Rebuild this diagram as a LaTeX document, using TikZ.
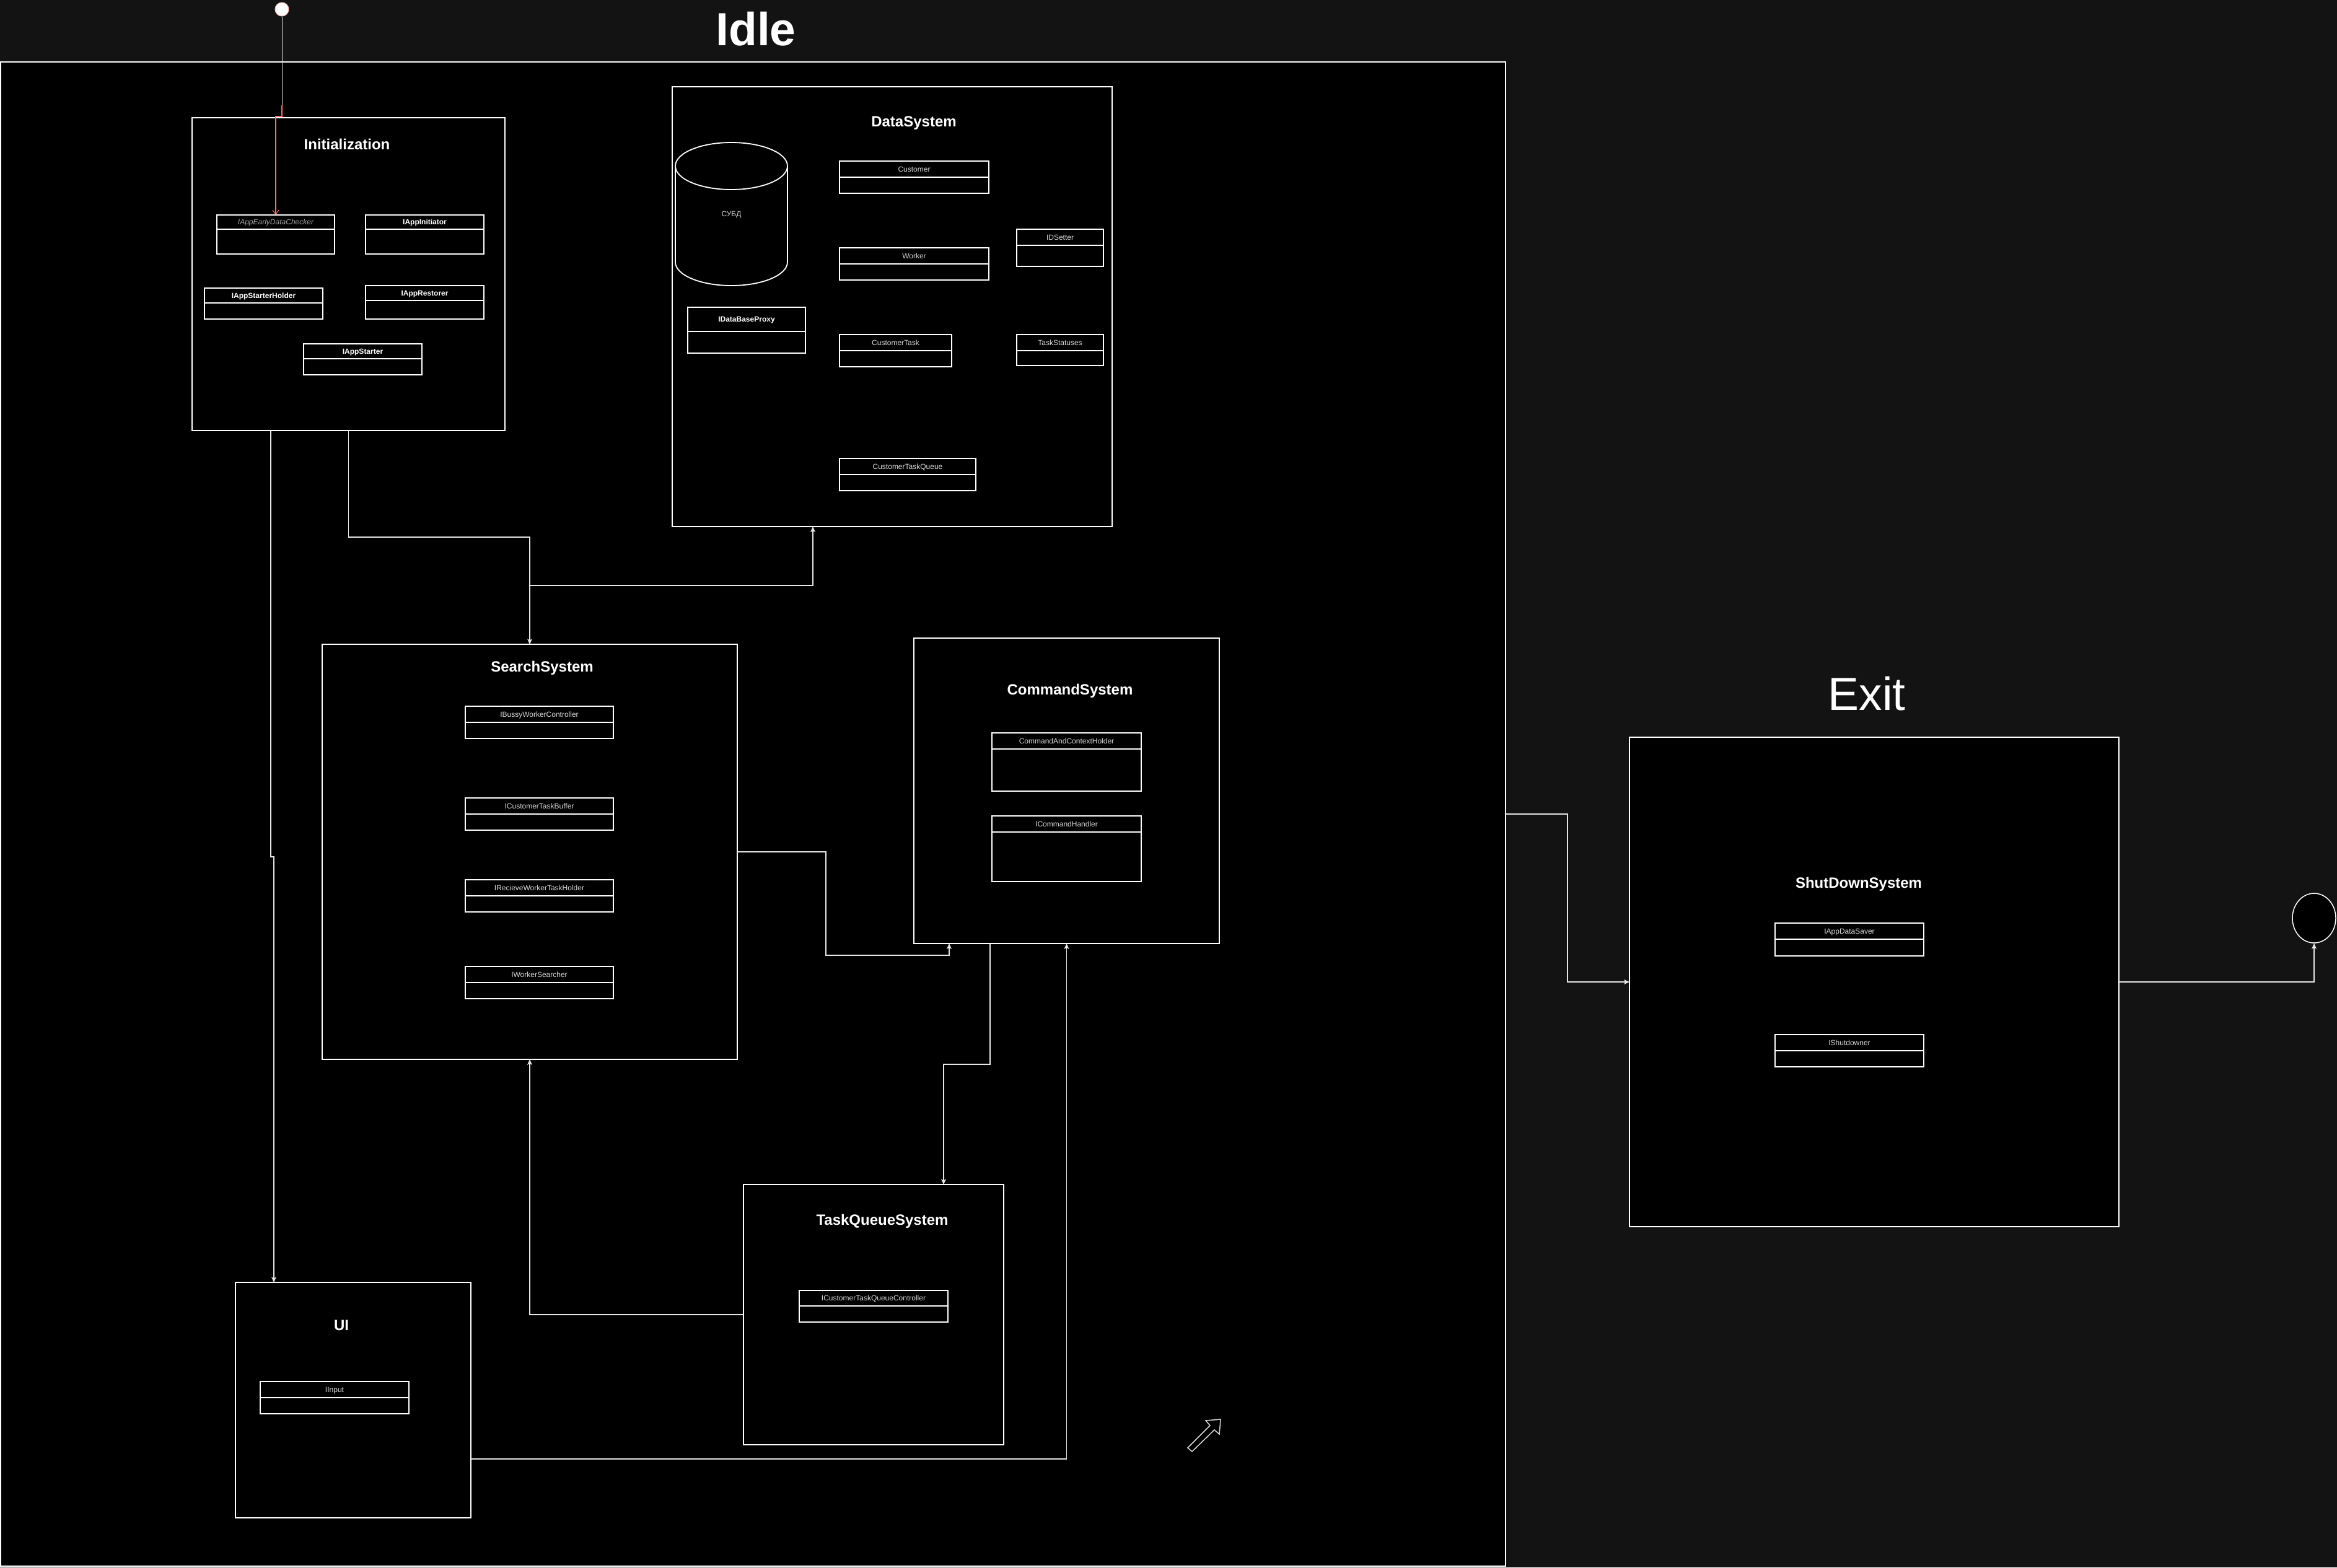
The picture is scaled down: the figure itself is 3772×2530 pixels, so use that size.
\documentclass[tikz,border=0pt]{standalone}
\usepackage{fontspec}
\setmainfont{Liberation Sans}
\usetikzlibrary{arrows.meta,calc,shapes.geometric}
\definecolor{bg}{HTML}{131313}
\definecolor{lbl}{HTML}{D9D9D9}
\definecolor{lblgray}{HTML}{A6A6A6}
\definecolor{redline}{HTML}{FF6B6B}
\definecolor{connc}{HTML}{E6E6E6}
\tikzset{
 sysbox/.style={rectangle, draw=white, line width=1.5pt, fill=black, inner sep=0pt, outer sep=0pt, anchor=north west},
 clsbox/.style={rectangle, draw=white, line width=1.4pt, inner sep=0pt, outer sep=0pt, anchor=north west},
 clstext/.style={text=lbl, font=\fontsize{12}{14}\selectfont, inner sep=0pt, anchor=base},
 clsbold/.style={clstext, text=white, font=\bfseries\fontsize{12}{14}\selectfont},
 clsital/.style={clstext, text=lblgray, font=\itshape\fontsize{12}{14}\selectfont},
 systitle/.style={text=white, font=\bfseries\fontsize{24}{28}\selectfont, inner sep=0pt, anchor=base},
 bigtitle/.style={text=white, inner sep=0pt, anchor=base},
 conn/.style={draw=connc, line width=1.3pt, -{Stealth[length=9pt,width=8pt,inset=2.5pt]}},
 redconn/.style={draw=redline, line width=1.1pt, -{Straight Barb[length=7pt,width=10pt]}},
}
\newcommand{\umlcls}[8][clstext]{%
 \node[clsbox, minimum width={(#5-#3)*1pt}, minimum height={(#6-#4)*1pt}] (#2) at (#3,#4) {};
 \draw[white, line width=1.4pt] (#3,#7) -- (#5,#7);
 \node[#1] (#2-t) at ({(#3+#5)/2},{(#4+#7)/2+4.3}) {#8};
}
\newcommand{\sysnode}[5]{%
 \node[sysbox, minimum width={(#4-#2)*1pt}, minimum height={(#5-#3)*1pt}] (#1) at (#2,#3) {};
}
\begin{document}
\begin{tikzpicture}[x=1pt,y=-1pt]
\useasboundingbox (0,0) rectangle (3772,2530);
\fill[bg] (0,0) rectangle (3772,2530);

% Idle frame
\sysnode{idle}{1}{100}{2430}{2528}
\node[bigtitle, font=\bfseries\fontsize{75}{80}\selectfont] (idlet) at (1220,73) {Idle};
\node[bigtitle, font=\fontsize{75}{80}\selectfont] (exitt) at (3013,1146) {Exit};

% Initialization
\sysnode{init}{310}{190}{815}{695}
\node[systitle] (initt) at (560,241) {Initialization};
\umlcls[clsital]{c-early}{350}{347}{540}{410}{370}{IAppEarlyDataChecker}
\umlcls[clsbold]{c-initiator}{590}{347}{781}{410}{370}{IAppInitiator}
\umlcls[clsbold]{c-holder}{330}{465}{521}{515}{489}{IAppStarterHolder}
\umlcls[clsbold]{c-restorer}{590}{461}{781}{515}{485}{IAppRestorer}
\umlcls[clsbold]{c-starter}{490}{555}{681}{605}{579}{IAppStarter}

% DataSystem
\sysnode{data}{1085}{140}{1795}{850}
\node[systitle] (datat) at (1475,204) {DataSystem};
\fill[black] (1090,268) -- (1090,423) .. controls (1090,444) and (1130.5,461) .. (1180.5,461) .. controls (1230.5,461) and (1271,444) .. (1271,423) -- (1271,268) -- cycle;
\draw[white, line width=1.8pt] (1090,268) -- (1090,423) .. controls (1090,444) and (1130.5,461) .. (1180.5,461) .. controls (1230.5,461) and (1271,444) .. (1271,423) -- (1271,268);
\draw[white, line width=1.8pt, fill=black] (1180.5,268) ellipse [x radius=90.5, y radius=38];
\node[clstext] (dbms) at (1180.5,349) {СУБД};
\umlcls{c-customer}{1355}{260}{1596}{312}{286}{Customer}
\umlcls{c-worker}{1355}{400}{1596}{452}{426}{Worker}
\umlcls{c-idsetter}{1641}{370}{1781}{430}{396}{IDSetter}
\umlcls[clsbold]{c-proxy}{1110}{496}{1300}{570}{535}{IDataBaseProxy}
\umlcls{c-ctask}{1355}{540}{1536}{592}{566}{CustomerTask}
\umlcls{c-statuses}{1641}{540}{1781}{590}{566}{TaskStatuses}
\umlcls{c-ctqueue}{1355}{740}{1575}{792}{766}{CustomerTaskQueue}

% SearchSystem
\sysnode{search}{520}{1040}{1190}{1710}
\node[systitle] (searcht) at (875,1084) {SearchSystem};
\umlcls{c-bussy}{751}{1140}{990}{1192}{1166}{IBussyWorkerController}
\umlcls{c-buffer}{751}{1288}{990}{1340}{1314}{ICustomerTaskBuffer}
\umlcls{c-recieve}{751}{1420}{990}{1472}{1446}{IRecieveWorkerTaskHolder}
\umlcls{c-searcher}{751}{1560}{990}{1612}{1586}{IWorkerSearcher}

% CommandSystem
\sysnode{cmd}{1475}{1030}{1968}{1523}
\node[systitle] (cmdt) at (1727,1121) {CommandSystem};
\umlcls{c-cch}{1601}{1183}{1842}{1277}{1209}{CommandAndContextHolder}
\umlcls{c-handler}{1601}{1317}{1842}{1423}{1343}{ICommandHandler}

% TaskQueueSystem
\sysnode{tq}{1200}{1912}{1620}{2332}
\node[systitle] (tqt) at (1424,1977) {TaskQueueSystem};
\umlcls{c-tqc}{1290}{2083}{1530}{2134}{2108}{ICustomerTaskQueueController}

% UI
\sysnode{ui}{380}{2070}{760}{2450}
\node[systitle] (uit) at (551,2147) {UI};
\umlcls{c-input}{420}{2230}{660}{2282}{2256}{IInput}

% ShutDownSystem
\sysnode{shut}{2630}{1190}{3420}{1980}
\node[systitle] (shutt) at (3000,1433) {ShutDownSystem};
\umlcls{c-saver}{2865}{1490}{3105}{1543}{1516}{IAppDataSaver}
\umlcls{c-shutdowner}{2865}{1670}{3105}{1722}{1696}{IShutdowner}

% start / end
\node[circle, fill=white, draw=redline!50!white, line width=1pt, minimum size=22pt, inner sep=0pt] (start) at (455,15) {};
\node[ellipse, fill=black, draw=white, line width=1.5pt, minimum width=70pt, minimum height=80pt, inner sep=0pt] (endc) at (3735,1482) {};

% coordinates
\coordinate (r1) at (455,170);
\coordinate (r2) at (445,188);
\coordinate (j1) at (855,867);
\coordinate (j2) at (1312,945);
\coordinate (j3a) at (437,1383);
\coordinate (j3b) at (442,1383);
\coordinate (j4a) at (1333,1542);
\coordinate (j4b) at (1532,1542);
\coordinate (j5a) at (1598,1718);
\coordinate (j5b) at (1523,1718);
\coordinate (j7) at (1721.5,2355);
\coordinate (j8) at (2530,1314);

% connectors
\draw[lbl, line width=1pt] (start.south) -- (r1);
\draw[redconn] (r1) |- (r2) -- (c-early.north);
\draw[conn] (init.south) |- (j1) -- (search.north);
\draw[conn] (search.north) |- (j2) -- (j2 |- data.south);
\draw[conn] (init.south -| j3a) -- (j3a) -- (j3b) -- (j3b |- ui.north);
\draw[conn] (search.east) -| (j4a) -- (j4b) -- (j4b |- cmd.south);
\draw[conn] (j5a |- cmd.south) -- (j5a) -- (j5b) -- (j5b |- tq.north);
\draw[conn] (tq.west) -| (search.south);
\draw[conn] (ui.east |- j7) -| (cmd.south);
\draw[conn] (idle.east |- j8) -- (j8) |- (shut.west);
\draw[conn] (shut.east) -| (endc.south);

% small block arrow glyph
\draw[lbl, line width=1.5pt, line join=miter] (1917,2337) -- (1953,2301) -- (1946,2293) -- (1970,2291) -- (1968,2315) -- (1960,2308) -- (1924,2343) -- cycle;
\end{tikzpicture}
\end{document}
